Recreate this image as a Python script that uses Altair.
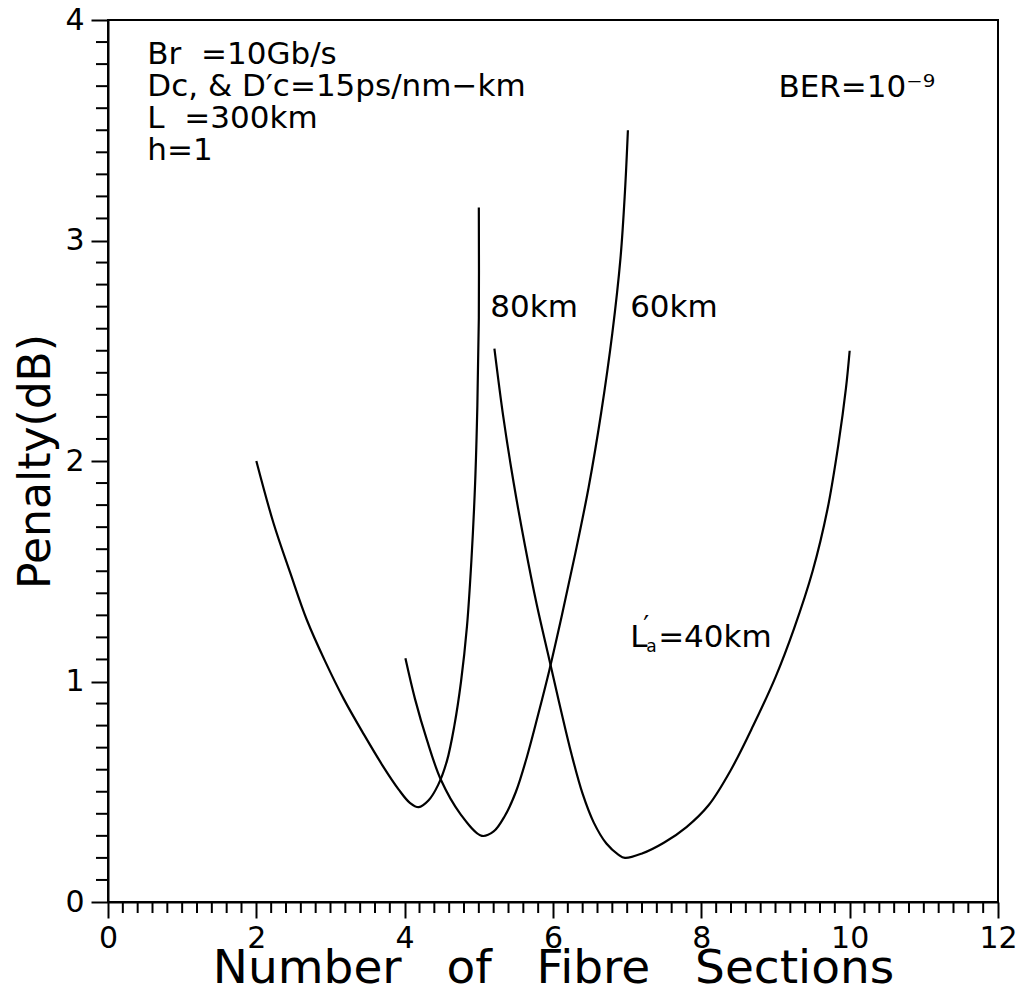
import altair as alt
import pandas as pd

# ---- data ----
a80_x = [2.00, 2.23, 2.46, 2.68, 2.93, 3.18, 3.45, 3.70, 3.92, 4.07, 4.19, 4.32, 4.45, 4.57, 4.67, 4.76, 4.84, 4.90, 4.95, 4.98, 5.00, 5.00]
a80_y = [2.00, 1.72, 1.49, 1.28, 1.09, 0.92, 0.76, 0.62, 0.51, 0.45, 0.43, 0.46, 0.53, 0.64, 0.80, 1.00, 1.25, 1.55, 1.90, 2.25, 2.65, 3.15]

b60_x = [4.01, 4.14, 4.30, 4.49, 4.75, 5.04, 5.20, 5.35, 5.50, 5.65, 5.80, 5.95, 6.12, 6.30, 6.48, 6.65, 6.80, 6.91, 6.97, 7.01]
b60_y = [1.105, 0.92, 0.735, 0.553, 0.40, 0.30, 0.32, 0.39, 0.50, 0.66, 0.85, 1.05, 1.30, 1.58, 1.88, 2.22, 2.58, 2.92, 3.22, 3.50]

c40_x = [5.21, 5.33, 5.47, 5.62, 5.78, 5.95, 6.10, 6.25, 6.40, 6.55, 6.72, 6.88, 6.97, 7.20, 7.50, 7.80, 8.10, 8.40, 8.70, 9.00, 9.25, 9.50, 9.70, 9.85, 9.95, 10.00]
c40_y = [2.51, 2.20, 1.90, 1.62, 1.35, 1.10, 0.88, 0.67, 0.49, 0.36, 0.265, 0.215, 0.20, 0.22, 0.27, 0.34, 0.44, 0.60, 0.80, 1.02, 1.24, 1.50, 1.78, 2.08, 2.33, 2.50]

x_major = [0, 2, 4, 6, 8, 10, 12]
y_major = [0, 1, 2, 3, 4]
x_minor = [round(i * 0.2, 1) for i in range(1, 60) if i % 10]
y_minor = [round(i * 0.1, 1) for i in range(1, 40) if i % 10]

info_text = ["Br\u00a0\u00a0=10Gb/s", "Dc, & D\u2032c=15ps/nm\u2212km", "L\u00a0\u00a0=300km", "h=1"]
info_x = [0.53, 0.53, 0.53, 0.53]
info_y = [3.80, 3.655, 3.51, 3.365]

lab_text = ["80km", "60km", "BER=10\u207b\u2079"]
lab_x = [5.155, 7.04, 9.04]
lab_y = [2.654, 2.654, 3.65]

la_x = [7.04]
la_y = [1.158]

FONT = "DejaVu Sans"
W, H = 890, 882
SP = "\u00a0\u00a0\u00a0"

rows = []
for name, xs_, ys_ in [("80km", a80_x, a80_y), ("60km", b60_x, b60_y), ("40km", c40_x, c40_y)]:
    for i, (x, y) in enumerate(zip(xs_, ys_)):
        rows.append({"curve": name, "i": i, "x": x, "y": y})
curves = pd.DataFrame(rows)

xs = alt.Scale(domain=[0, 12], nice=False, zero=False)
ys = alt.Scale(domain=[0, 4], nice=False, zero=False)

lines = alt.Chart(curves).mark_line(color="black", strokeWidth=2.2, interpolate="catmull-rom").encode(
    x=alt.X("x:Q", scale=xs, axis=alt.Axis(
        values=x_major, format="d", tickSize=16, labelPadding=5, labelFlush=False, labelOverlap=False,
        title="Number" + SP + "of" + SP + "Fibre" + SP + "Sections",
        titleBaseline="alphabetic", titleY=80, titleFontSize=47)),
    y=alt.Y("y:Q", scale=ys, axis=alt.Axis(
        values=y_major, format="d", tickSize=17, labelPadding=7, labelFlush=False, labelOverlap=False,
        title="Penalty(dB)", titleX=-50, titleFontSize=44)),
    detail="curve:N",
    order="i:Q",
)

xminor = alt.Chart(pd.DataFrame({"v": x_minor})).mark_rule(color="black", strokeWidth=2).encode(
    x=alt.X("v:Q", scale=xs), y=alt.value(H), y2=alt.value(H + 11))
yminor = alt.Chart(pd.DataFrame({"v": y_minor})).mark_rule(color="black", strokeWidth=2).encode(
    y=alt.Y("v:Q", scale=ys), x=alt.value(0), x2=alt.value(-12))

info = alt.Chart(pd.DataFrame({"t": info_text, "x": info_x, "y": info_y})).mark_text(
    align="left", baseline="alphabetic", font=FONT, fontSize=31, color="black").encode(
    x=alt.X("x:Q", scale=xs), y=alt.Y("y:Q", scale=ys), text="t:N")

labs = alt.Chart(pd.DataFrame({"t": lab_text, "x": lab_x, "y": lab_y})).mark_text(
    align="left", baseline="alphabetic", font=FONT, fontSize=31, color="black").encode(
    x=alt.X("x:Q", scale=xs), y=alt.Y("y:Q", scale=ys), text="t:N")

la_df = pd.DataFrame({"x": la_x, "y": la_y})
def la_part(txt, size, dx, dy):
    return alt.Chart(la_df).mark_text(
        align="left", baseline="alphabetic", font=FONT, fontSize=size, color="black",
        dx=dx, dy=dy, text=txt).encode(
        x=alt.X("x:Q", scale=xs), y=alt.Y("y:Q", scale=ys))

la = la_part("L", 31, 0, 0) + la_part("a", 17, 16, 5) + la_part("\u2032", 26, 13, -12) + la_part("=40km", 31, 28, 0)

chart = alt.layer(lines, xminor, yminor, info, labs, la).properties(
    width=W, height=H,
    background="white",
    autosize=alt.AutoSizeParams(type="none"),
    padding={"left": 100, "top": 12, "right": 18, "bottom": 85},
).configure_view(stroke="black", strokeWidth=2).configure_axis(
    grid=False, domainColor="black", domainWidth=2, tickColor="black", tickWidth=2,
    labelFont=FONT, labelFontSize=30, labelColor="black",
    titleFont=FONT, titleFontWeight="normal", titleColor="black",
)

chart.save("out.html", embed_options={"renderer": "svg", "actions": False})
